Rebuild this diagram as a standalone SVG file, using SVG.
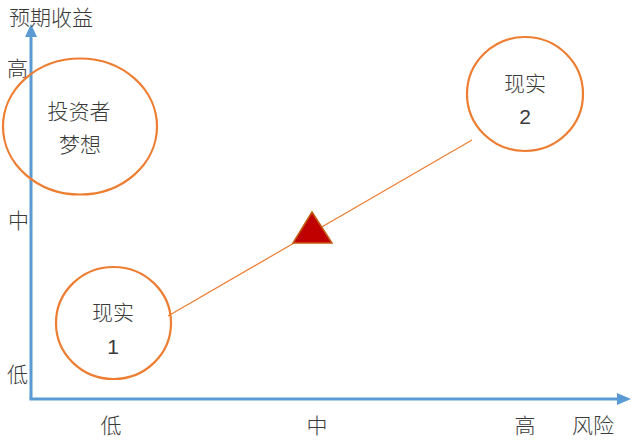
<svg xmlns="http://www.w3.org/2000/svg" width="640" height="442" viewBox="0 0 640 442">
<style>
text{font-family:"Noto Sans CJK SC","Liberation Sans",sans-serif;font-size:21px;fill:#3a3a3a;font-weight:300;}
.c{text-anchor:middle;}
.ell{fill:none;stroke:#ED7D31;stroke-width:2.2;}
.ax{stroke:#5B9BD5;stroke-width:3;fill:none;}
</style>
<rect width="640" height="442" fill="#fff"/>
<g id="axes">
<line class="ax" x1="31" y1="399" x2="31" y2="34"/>
<polygon points="31,24 25,37 37,37" fill="#5B9BD5"/>
<line class="ax" x1="29.5" y1="399" x2="618" y2="399"/>
<polygon points="631,399 617,393 617,405" fill="#5B9BD5"/>
<text x="9" y="25">预期收益</text>
<text x="7" y="76">高</text>
<text x="8" y="228">中</text>
<text x="7" y="382">低</text>
<text class="c" x="111" y="433">低</text>
<text class="c" x="317" y="433">中</text>
<text class="c" x="525" y="433">高</text>
<text x="572" y="433">风险</text>
</g>
<g id="connectors">
<line x1="168" y1="316" x2="472" y2="140" stroke="#ED7D31" stroke-width="1.2"/>
</g>
<g id="dream">
<ellipse class="ell" cx="80" cy="126.5" rx="77" ry="68"/>
<text class="c" x="79" y="119">投资者</text>
<text class="c" x="80" y="152">梦想</text>
</g>
<g id="real1">
<ellipse class="ell" cx="113.5" cy="323" rx="57.5" ry="56"/>
<text class="c" x="113" y="320">现实</text>
<text class="c" x="113" y="354" style="font-family:'Liberation Sans',sans-serif;font-weight:400">1</text>
</g>
<g id="real2">
<ellipse class="ell" cx="525" cy="94" rx="58" ry="57"/>
<text class="c" x="525" y="91">现实</text>
<text class="c" x="525" y="124" style="font-family:'Liberation Sans',sans-serif;font-weight:400">2</text>
</g>
<g id="triangle">
<polygon points="312,212 293,243 332,243" fill="#C00000" stroke="#C55A11" stroke-width="1.5"/>
</g>
</svg>
